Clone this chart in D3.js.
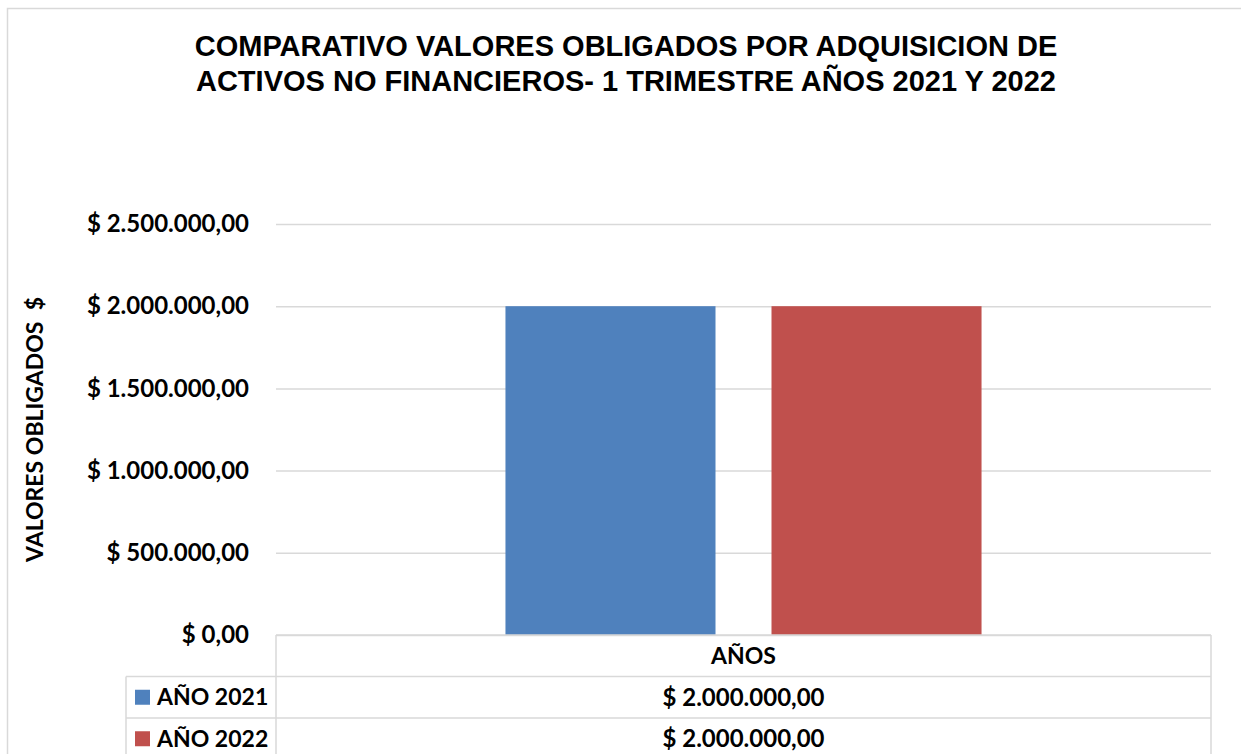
<!DOCTYPE html>
<html>
<head>
<meta charset="utf-8">
<script src="https://cdn.jsdelivr.net/npm/d3@7"></script>
<style>
  html, body { margin: 0; padding: 0; background: #fff; }
  svg { display: block; }
</style>
</head>
<body>
<svg id="chart" width="1241" height="754"></svg>
<script>
// ---- data ----
const titleLines = ["COMPARATIVO VALORES OBLIGADOS POR ADQUISICION DE", "ACTIVOS NO FINANCIEROS- 1 TRIMESTRE AÑOS 2021 Y 2022"];
const categories = ["AÑOS"];
const seriesNames = ["AÑO 2021", "AÑO 2022"];
const seriesValues = [[2000000], [2000000]];
const seriesColors = ["#4F81BD", "#C0504D"];
const yTicks = [0, 500000, 1000000, 1500000, 2000000, 2500000];
const yTitle = "VALORES OBLIGADOS  $";

// ---- layout ----
const W = 1241, H = 754;
const plot = { left: 276, right: 1211, top: 224, bottom: 635 };
const rowH = 41.5;
const legendLeft = 126;
const labelFont = "Lato, 'Open Sans', sans-serif";
const grid = "#d9d9d9";

const locale = d3.formatLocale({ decimal: ",", thousands: ".", grouping: [3], currency: ["$ ", ""] });
const fmt = locale.format("$,.2f");

const svg = d3.select("#chart");

// outer chart border
svg.append("path")
  .attr("d", `M7.5,${H} V8.5 H${W}`)
  .attr("fill", "none").attr("stroke", grid).attr("stroke-width", 1.5);

// title
const title = svg.append("text")
  .attr("x", 626).attr("y", 56)
  .attr("text-anchor", "middle")
  .attr("font-family", "'Liberation Sans', Arial, sans-serif")
  .attr("font-weight", "bold").attr("font-size", 29).attr("fill", "#000");
titleLines.forEach((t, i) => title.append("tspan").attr("x", 626).attr("y", 56 + i * 35).text(t));

// scales
const y = d3.scaleLinear().domain([0, 2500000]).range([plot.bottom, plot.top]);
const x0 = d3.scaleBand().domain(categories).range([plot.left, plot.right]).paddingInner(0).paddingOuter(0.482);
const x1 = d3.scaleBand().domain(seriesNames).range([0, x0.bandwidth()]).paddingInner(0.2105).paddingOuter(0);

// y axis (gridlines + labels)
const yAxis = d3.axisLeft(y).tickValues(yTicks).tickFormat(fmt).tickSize(-(plot.right - plot.left)).tickPadding(27);
const gy = svg.append("g").attr("transform", `translate(${plot.left},0)`).call(yAxis);
gy.select(".domain").remove();
gy.selectAll(".tick line").attr("stroke", grid).attr("stroke-width", 1.5);
gy.selectAll(".tick text")
  .attr("font-family", labelFont).attr("font-weight", "bold").attr("font-size", 24).attr("fill", "#000");

// y title
svg.append("text")
  .attr("transform", `translate(43,${(plot.top + plot.bottom) / 2}) rotate(-90)`)
  .attr("text-anchor", "middle")
  .style("white-space", "pre")
  .attr("font-family", labelFont).attr("font-weight", "bold").attr("font-size", 23).attr("fill", "#000")
  .text(yTitle);

// bars
const gCat = svg.selectAll(".cat").data(categories).join("g")
  .attr("transform", d => `translate(${x0(d)},0)`);
seriesNames.forEach((s, si) => {
  gCat.append("rect")
    .attr("x", (d) => x1(s))
    .attr("y", (d, ci) => y(seriesValues[si][ci]))
    .attr("width", x1.bandwidth())
    .attr("height", (d, ci) => y(0) - y(seriesValues[si][ci]))
    .attr("fill", seriesColors[si]);
});

// data table
const tbl = svg.append("g").attr("fill", "none").attr("stroke", grid).attr("stroke-width", 1.5);
tbl.append("line").attr("x1", plot.left).attr("x2", plot.right).attr("y1", plot.bottom).attr("y2", plot.bottom);
const rowsTop = plot.bottom + rowH;
seriesNames.forEach((s, i) => {
  const yy = rowsTop + i * rowH;
  tbl.append("line").attr("x1", legendLeft).attr("x2", plot.right).attr("y1", yy).attr("y2", yy);
});
tbl.append("line").attr("x1", legendLeft).attr("x2", plot.right).attr("y1", rowsTop + seriesNames.length * rowH).attr("y2", rowsTop + seriesNames.length * rowH);
tbl.append("line").attr("x1", plot.left).attr("x2", plot.left).attr("y1", plot.bottom).attr("y2", H + 10);
tbl.append("line").attr("x1", plot.right).attr("x2", plot.right).attr("y1", plot.bottom).attr("y2", H + 10);
tbl.append("line").attr("x1", legendLeft).attr("x2", legendLeft).attr("y1", rowsTop).attr("y2", H + 10);

// header text
const cellCenter = c => x0(c) + x0.bandwidth() / 2;
svg.selectAll(".hdr").data(categories).join("text")
  .attr("x", cellCenter).attr("y", plot.bottom + rowH / 2)
  .attr("dy", "0.35em").attr("text-anchor", "middle")
  .attr("font-family", labelFont).attr("font-weight", "bold").attr("font-size", 23).attr("fill", "#000")
  .text(d => d);

// rows
seriesNames.forEach((s, si) => {
  const cy = rowsTop + si * rowH + rowH / 2;
  svg.append("rect").attr("x", 135).attr("y", cy - 7.5).attr("width", 15).attr("height", 15).attr("fill", seriesColors[si]);
  svg.append("text").attr("x", 157).attr("y", cy).attr("dy", "0.35em")
    .attr("font-family", labelFont).attr("font-weight", "bold").attr("font-size", 23).attr("fill", "#000")
    .text(s);
  categories.forEach((c, ci) => {
    svg.append("text").attr("x", cellCenter(c)).attr("y", cy).attr("dy", "0.35em")
      .attr("text-anchor", "middle")
      .attr("font-family", labelFont).attr("font-weight", "bold").attr("font-size", 24).attr("fill", "#000")
      .text(fmt(seriesValues[si][ci]));
  });
});
</script>
</body>
</html>
